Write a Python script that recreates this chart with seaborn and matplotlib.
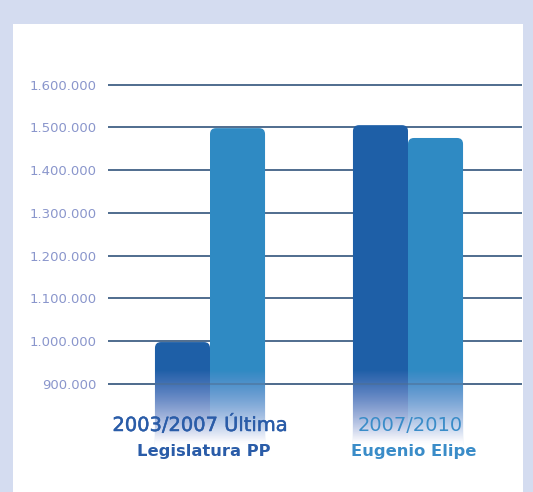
import numpy as np
import pandas as pd
import matplotlib
matplotlib.use("Agg")
import matplotlib.pyplot as plt
from matplotlib.patches import Rectangle, FancyBboxPatch
import matplotlib.patheffects as pe
import seaborn as sns

# ---- data ----
categories = ["2003/2007 Última\nLegislatura PP", "2007/2010\nEugenio Elipe"]
series_names = ["A", "B"]
values_a = [998000, 1505000]
values_b = [1498000, 1475000]
yticks = [900000, 1000000, 1100000, 1200000, 1300000, 1400000, 1500000, 1600000]
ytick_labels = ["900.000", "1.000.000", "1.100.000", "1.200.000",
                "1.300.000", "1.400.000", "1.500.000", "1.600.000"]
line1 = ["2003/2007 Última", "2007/2010"]
line2 = ["Legislatura PP", "Eugenio Elipe"]

df = pd.DataFrame({
    "cat": categories * 2,
    "serie": [series_names[0]] * 2 + [series_names[1]] * 2,
    "val": values_a + values_b,
})

W, H = 533, 492
fig = plt.figure(figsize=(W / 100, H / 100), dpi=100)
fig.patch.set_facecolor("#d4dcf0")
fig.add_artist(Rectangle((13 / W, 0), (523 - 13) / W, (H - 24) / H,
                         transform=fig.transFigure, facecolor="white",
                         edgecolor="none", zorder=0))

# axes in pixel layout
ax_left, ax_right = 108, 522
ax_top, ax_bot = 60, 445
ax = fig.add_axes([ax_left / W, 1 - ax_bot / H, (ax_right - ax_left) / W,
                   (ax_bot - ax_top) / H])
ax.patch.set_alpha(0)

px_per_unit_y = (384 - 84.5) / 700000.0
ymin = 900000 - (ax_bot - 384) / px_per_unit_y
ymax = 1600000 + (84.5 - ax_top) / px_per_unit_y
xmin = 0 - (210 - ax_left) / 198.0
xmax = 1 + (ax_right - 408) / 198.0

dark, light = "#1e5fa7", "#2f8ac3"
sns.barplot(data=df, x="cat", y="val", hue="serie", palette=[dark, light],
            width=0.556, gap=0, ax=ax, legend=False, zorder=3,
            saturation=1, errorbar=None)

ax.set_xlim(xmin, xmax)
ax.set_ylim(ymin, ymax)

# fading gradient image
fade_top = 900000 + 14 / px_per_unit_y
n = 200
tt = np.linspace(0, 1, n)[:, None]
col_top = np.array([0.58, 0.58, 0.85])
col_bot = np.array([1.0, 1.0, 1.0])
rgb = col_top[None, :] * (1 - tt) + col_bot[None, :] * tt
alpha = np.clip(tt ** 0.8 * 1.05, 0, 1)
img = np.concatenate([rgb, alpha], axis=1)[:, None, :]
img = np.repeat(img, 2, axis=1)

# rounded tops + clipped fade per bar
x_per_px = 1 / 198.0
y_per_px = 1 / px_per_unit_y
r_px = 6
for p in list(ax.patches):
    if isinstance(p, Rectangle):
        x, w, h = p.get_x(), p.get_width(), p.get_height()
        fc = p.get_facecolor()
        p.remove()
        bottom = ymin - 30000
        fb = FancyBboxPatch((x, bottom), w, h - bottom,
                            boxstyle=f"round,pad=0,rounding_size={r_px * x_per_px}",
                            mutation_aspect=y_per_px / x_per_px,
                            facecolor=fc, edgecolor="none", zorder=3)
        ax.add_patch(fb)
        im = ax.imshow(img, extent=[x, x + w, ymin, fade_top], origin="upper",
                       aspect="auto", zorder=4, interpolation="bilinear")
        im.set_clip_path(fb)

# gridlines
for t in yticks:
    ax.axhline(t, color="#4f6d8e", lw=1.4, zorder=1)
ax.axhline(900000, color="#4f6d8e", lw=1.4, alpha=0.5, zorder=5)

ax.set_xlim(xmin, xmax)
ax.set_ylim(ymin, ymax)
ax.set_yticks(yticks)
ax.set_yticklabels(ytick_labels)
ax.tick_params(axis="y", length=0, pad=8, labelsize=9.5, labelcolor="#8a96cc")
ax.set_xticks([])
ax.set_xlabel("")
ax.set_ylabel("")
for s in ax.spines.values():
    s.set_visible(False)

# category labels
label_cols = ["#2a5ca8", "#3a8cc8"]
c1 = [200, 410]
c2 = [204, 414]
strokes = [0.35, 0.0]
for i in range(2):
    t1 = fig.text(c1[i] / W, 1 - 431 / H, line1[i], ha="center", va="baseline",
                  fontsize=14, color=label_cols[i], zorder=6)
    if strokes[i] > 0:
        t1.set_path_effects([pe.withStroke(linewidth=strokes[i],
                                           foreground=label_cols[i])])
    fig.text(c2[i] / W, 1 - 456 / H, line2[i], ha="center", va="baseline",
             fontsize=11.8, color=label_cols[i], fontweight="bold", zorder=6)

fig.savefig("out.png", dpi=100, facecolor=fig.get_facecolor())
